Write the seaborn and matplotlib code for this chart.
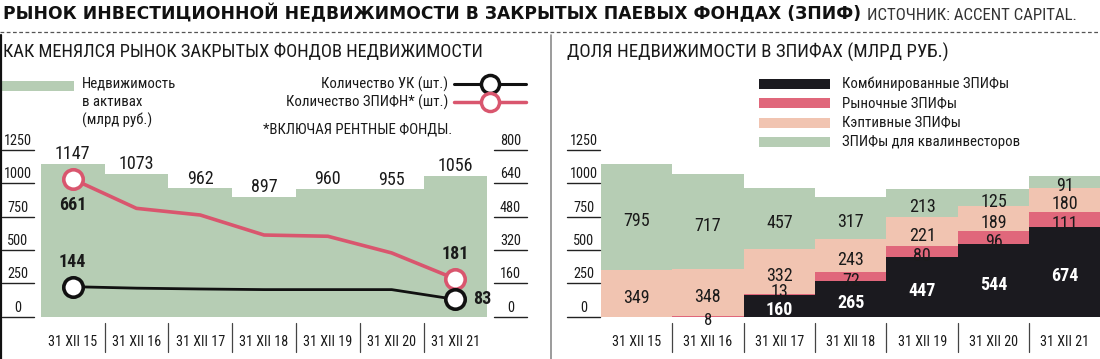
import numpy as np
import pandas as pd
import matplotlib
matplotlib.use("Agg")
import matplotlib.pyplot as plt
import matplotlib.transforms as mtrans
from matplotlib.lines import Line2D
from matplotlib.patches import Rectangle
import seaborn as sns

# ---------------- data ----------------
dates = ["31 XII 15", "31 XII 16", "31 XII 17", "31 XII 18", "31 XII 19", "31 XII 20", "31 XII 21"]
assets = [1147, 1073, 962, 897, 960, 955, 1056]          # bn rub (left panel bars)
uk_count = [144, 137, 133, 130, 130, 130, 83]             # management companies
zpifn_count = [661, 520, 488, 392, 386, 306, 181]         # real-estate closed funds
combined = [0, 0, 160, 265, 447, 544, 674]
market = [0, 8, 13, 72, 80, 96, 111]
captive = [349, 348, 332, 243, 221, 189, 180]
qualified = [795, 717, 457, 317, 213, 125, 91]
left_ticks = [0, 250, 500, 750, 1000, 1250]
count_ticks = [0, 160, 320, 480, 640, 800]

# ---------------- style ----------------
sns.set_theme(style="white")
NARROW = ["Roboto Condensed", "Roboto", "DejaVu Sans"]
plt.rcParams["font.family"] = NARROW

GREEN = "#b6cdb4"
PEACH = "#f1c4b1"
RED = "#e0677b"
BLACK = "#1b1a1f"
LINE_RED = "#d9566e"
TXT = "#1a1a1a"

FS_LEG = 10.7
FS_TICK = 10.3
FS_CAT = 10.2
FS_VAL = 13.0
FS_SUB = 13.3

W, H = 1100, 359
fig = plt.figure(figsize=(W / 100, H / 100), dpi=100)
fig.patch.set_facecolor("white")


def fx(px):
    return px / W


def fy(py):
    return 1 - py / H


def add_axes_px(x0, x1, ytop, ybot):
    return fig.add_axes([fx(x0), fy(ybot), (x1 - x0) / W, (ybot - ytop) / H])


# ---------------- header ----------------
fig.text(fx(3), fy(14), "РЫНОК ИНВЕСТИЦИОННОЙ НЕДВИЖИМОСТИ В ЗАКРЫТЫХ ПАЕВЫХ ФОНДАХ (ЗПИФ)",
         family="DejaVu Sans", weight="bold", fontsize=12.3, color="#111", va="center", ha="left")
fig.text(fx(867), fy(15), "ИСТОЧНИК: ACCENT CAPITAL.", fontsize=12.2, color="#333", va="center", ha="left")
fig.add_artist(Line2D([0, 1], [fy(32), fy(32)], transform=fig.transFigure, color="#555",
                      lw=0.9, ls=(0, (3, 2))))
fig.add_artist(Line2D([fx(1), fx(1)], [fy(35), 0], transform=fig.transFigure, color="#111", lw=1.6))
fig.add_artist(Line2D([fx(551), fx(551)], [fy(35), 0], transform=fig.transFigure, color="#8a8a8a", lw=1.2))

fig.text(fx(3), fy(52), "КАК МЕНЯЛСЯ РЫНОК ЗАКРЫТЫХ ФОНДОВ НЕДВИЖИМОСТИ", fontsize=FS_SUB,
         color=TXT, va="center", ha="left")
fig.text(fx(567), fy(52), "ДОЛЯ НЕДВИЖИМОСТИ В ЗПИФАХ (МЛРД РУБ.)", fontsize=FS_SUB + 0.3,
         color=TXT, va="center", ha="left")

# left legend
fig.add_artist(Rectangle((fx(2), fy(91)), fx(72), 10 / H, transform=fig.transFigure,
                         facecolor=GREEN, edgecolor="none"))
for i, s in enumerate(["Недвижимость", "в активах", "(млрд руб.)"]):
    fig.text(fx(82), fy(84 + 18 * i), s, fontsize=FS_LEG, color=TXT, va="center", ha="left")
fig.text(fx(448), fy(84), "Количество УК (шт.)", fontsize=FS_LEG, color=TXT, va="center", ha="right")
fig.text(fx(448), fy(102), "Количество ЗПИФН* (шт.)", fontsize=FS_LEG, color=TXT, va="center", ha="right")
fig.text(fx(452), fy(129), "*ВКЛЮЧАЯ РЕНТНЫЕ ФОНДЫ.", fontsize=FS_LEG, color=TXT, va="center", ha="right")
for yy, col, lw in [(84, "#111", 2.2), (102, LINE_RED, 2.5)]:
    fig.add_artist(Line2D([fx(454), fx(526)], [fy(yy), fy(yy)], transform=fig.transFigure,
                          color=col, lw=lw))
    fig.add_artist(Line2D([fx(490)], [fy(yy)], transform=fig.transFigure, marker="o",
                          markersize=13, markerfacecolor="white", markeredgecolor=col,
                          markeredgewidth=2.5, lw=0))

# right legend
for i, (col, s) in enumerate([(BLACK, "Комбинированные ЗПИФы"), (RED, "Рыночные ЗПИФы"),
                              (PEACH, "Кэптивные ЗПИФы"), (GREEN, "ЗПИФы для квалинвесторов")]):
    yc = 84 + 19.3 * i
    fig.add_artist(Rectangle((fx(759), fy(yc + 5)), fx(71), 10 / H, transform=fig.transFigure,
                             facecolor=col, edgecolor="none"))
    fig.text(fx(842), fy(yc), s, fontsize=FS_LEG, color=TXT, va="center", ha="left")

# ---------------- left panel ----------------
Y0, Y1 = 316.7, 150.0
axL = add_axes_px(40.7, 487.4, Y1, Y0)
df_left = pd.DataFrame({"date": dates, "assets": assets})
sns.barplot(data=df_left, x="date", y="assets", color=GREEN, saturation=1, width=1,
            linewidth=0, edgecolor="none", ax=axL)
axL.set_xlim(-0.5, len(dates) - 0.5)
axL.set_ylim(0, 1250)
axL.patch.set_alpha(0)
for sp in axL.spines.values():
    sp.set_visible(False)
axL.set_xlabel("")
axL.set_ylabel("")
axL.set_yticks([])
axL.tick_params(axis="x", length=0, pad=13, labelsize=FS_CAT, colors=TXT)
for i, v in enumerate(assets):
    axL.annotate(f"{v}", (i, v), xytext=(0, 0.5), textcoords="offset points", ha="center",
                 va="bottom", fontsize=FS_VAL, color=TXT)

axR = axL.twinx()
axR.set_ylim(0, 800)
axR.set_yticks([])
axR.patch.set_alpha(0)
for sp in axR.spines.values():
    sp.set_visible(False)
xs = np.arange(len(dates))
sns.lineplot(x=xs, y=zpifn_count, ax=axR, color=LINE_RED, lw=2.6)
sns.lineplot(x=xs, y=uk_count, ax=axR, color="#111", lw=2.0)
for series, col in [(zpifn_count, LINE_RED), (uk_count, "#111")]:
    axR.plot([xs[0], xs[-1]], [series[0], series[-1]], ls="none", marker="o", markersize=14,
             markerfacecolor="white", markeredgecolor=col, markeredgewidth=2.6, zorder=5)
bold = dict(textcoords="offset points", ha="center", va="center", fontsize=FS_VAL,
            weight="bold", color=TXT)
axR.annotate(f"{zpifn_count[0]}", (xs[0], zpifn_count[0]), xytext=(0, -19), **bold)
axR.annotate(f"{uk_count[0]}", (xs[0], uk_count[0]), xytext=(0, 18), **bold)
axR.annotate(f"{zpifn_count[-1]}", (xs[-1], zpifn_count[-1]), xytext=(0, 18), **bold)
axR.annotate(f"{uk_count[-1]}", (xs[-1], uk_count[-1]), xytext=(19, 0), **bold)
axR.set_xlim(-0.5, len(dates) - 0.5)


def tick_marks(ax, ticks, x0px, x1px):
    tr = mtrans.blended_transform_factory(fig.transFigure, ax.transData)
    for t in ticks:
        ax.add_artist(Line2D([fx(x0px), fx(x1px)], [t, t], transform=tr, color="#222",
                             lw=1.0, clip_on=False))
        ax.annotate(f"{t}", (fx((x0px + x1px) / 2), t), xycoords=tr, xytext=(0, 1.5),
                    textcoords="offset points", ha="center", va="bottom", fontsize=FS_TICK,
                    color=TXT, annotation_clip=False)


def separators(ax, n):
    tr = mtrans.blended_transform_factory(ax.transData, fig.transFigure)
    for i in range(n - 1):
        ax.add_artist(Line2D([i + 0.5, i + 0.5], [fy(323), fy(352)], transform=tr,
                             color="#444", lw=0.9, clip_on=False))


tick_marks(axL, left_ticks, 2, 34)
tick_marks(axR, count_ticks, 494, 527)
separators(axL, len(dates))

# ---------------- right panel ----------------
axS = add_axes_px(600.8, 1100.7, Y1, Y0)
layers = [("qualified", GREEN), ("captive", PEACH), ("market", RED), ("combined", BLACK)]
df_s = pd.DataFrame({"date": dates, "combined": combined, "market": market,
                     "captive": captive, "qualified": qualified})
cum_order = ["combined", "market", "captive", "qualified"]
cums = df_s[cum_order].cumsum(axis=1)
for name, col in layers:
    sns.barplot(x=df_s["date"], y=cums[name], color=col, saturation=1, width=1,
                linewidth=0, edgecolor="none", ax=axS)
axS.set_xlim(-0.5, len(dates) - 0.5)
axS.set_ylim(0, 1250)
axS.patch.set_alpha(0)
for sp in axS.spines.values():
    sp.set_visible(False)
axS.set_xlabel("")
axS.set_ylabel("")
axS.set_yticks([])
axS.tick_params(axis="x", length=0, pad=13, labelsize=FS_CAT, colors=TXT)
tick_marks(axS, left_ticks, 567, 600)
separators(axS, len(dates))

for i in range(len(dates)):
    bottom = 0
    for name in cum_order:
        v = df_s[name].iloc[i]
        if v > 0:
            mid = bottom + v / 2
            kw = dict(ha="center", fontsize=FS_VAL, textcoords="offset points")
            if name == "combined":
                axS.annotate(f"{v}", (i, mid), xytext=(0, -3), va="center", color="white",
                             weight="bold", **kw)
            elif name == "market" and v < 20 and bottom == 0:
                axS.annotate(f"{v}", (i, 0), xytext=(0, 3), va="top", color=TXT,
                             annotation_clip=False, fontsize=FS_VAL - 1, ha="center",
                             textcoords="offset points")
            elif name == "market" and v < 20:
                axS.annotate(f"{v}", (i, bottom + v), xytext=(0, -5), va="bottom", color=TXT, **kw)
            else:
                axS.annotate(f"{v}", (i, mid), xytext=(0, -3), va="center", color=TXT, **kw)
        bottom += v

fig.savefig("out.png", dpi=100, facecolor="white")
